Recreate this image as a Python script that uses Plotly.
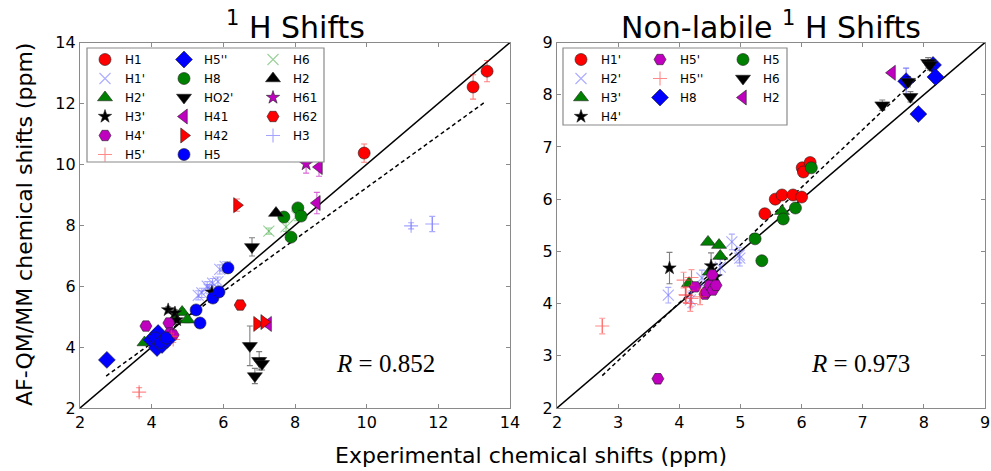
import plotly.graph_objects as go

# ---------------- tick values ----------------
LEFT_TICKS = [2, 4, 6, 8, 10, 12, 14]
RIGHT_TICKS = [2, 3, 4, 5, 6, 7, 8, 9]
LEFT_RANGE = [2, 14]
RIGHT_RANGE = [2, 9]

# ---------------- left panel: all 1H shifts ----------------
L_NAMES = ["H1", "H1'", "H2'", "H3'", "H4'", "H5'", "H5''", "H8", "HO2'",
           "H41", "H42", "H5", "H6", "H2", "H61", "H62", "H3"]

L_H1_x = [9.93, 12.97, 13.36]
L_H1_y = [10.37, 12.54, 13.06]
L_H1_e = [0.3, 0.4, 0.35]
L_H1p_x = [5.3, 5.4, 5.55, 5.6, 5.7, 5.85, 5.9, 6.05]
L_H1p_y = [5.7, 5.78, 6.0, 5.9, 6.1, 6.15, 6.55, 6.65]
L_H1p_e = [0.15, 0.15, 0.15, 0.15, 0.15, 0.15, 0.15, 0.15]
L_H2p_x = [3.8, 4.65, 4.85, 5.0]
L_H2p_y = [4.15, 4.95, 5.15, 4.9]
L_H2p_e = [0.05, 0.1, 0.1, 0.1]
L_H3p_x = [4.46, 4.65, 4.7, 5.68]
L_H3p_y = [5.22, 5.12, 4.89, 5.8]
L_H3p_e = [0.1, 0.1, 0.15, 0.1]
L_H4p_x = [3.84, 4.48, 4.51, 4.6]
L_H4p_y = [4.69, 4.79, 4.46, 4.4]
L_H4p_e = [0.05, 0.1, 0.1, 0.05]
L_H5p_x = [3.65, 4.55, 4.6]
L_H5p_y = [2.52, 4.35, 4.25]
L_H5p_e = [0.15, 0.1, 0.1]
L_H5pp_x = [2.75, 4.0, 4.1, 4.15, 4.18, 4.29, 4.43]
L_H5pp_y = [3.58, 4.23, 4.35, 3.97, 4.46, 4.07, 4.23]
L_H5pp_e = [0.05, 0.05, 0.05, 0.05, 0.05, 0.05, 0.05]
L_H8_x = [7.69, 7.89, 8.08, 8.17]
L_H8_y = [8.27, 7.61, 8.57, 8.30]
L_H8_e = [0.1, 0.1, 0.1, 0.1]
L_HO2_x = [6.74, 6.80, 6.88, 7.0, 7.08]
L_HO2_y = [4.04, 7.29, 3.05, 3.55, 3.45]
L_HO2_e = [0.65, 0.3, 0.25, 0.3, 0.2]
L_H41_x = [7.25, 8.61, 8.67]
L_H41_y = [4.76, 8.73, 9.91]
L_H41_e = [0.1, 0.35, 0.3]
L_H42_x = [6.38, 6.94, 7.14]
L_H42_y = [8.66, 4.76, 4.82]
L_H42_e = [0.2, 0.1, 0.1]
L_H5_x = [4.1, 4.25, 4.4, 5.24, 5.35, 5.71, 5.88, 6.13]
L_H5_y = [4.3, 4.15, 4.3, 5.22, 4.79, 5.61, 5.81, 6.60]
L_H5_e = [0.05, 0.05, 0.05, 0.05, 0.05, 0.05, 0.05, 0.05]
L_H6_x = [7.27, 7.75, 8.05]
L_H6_y = [7.81, 7.95, 8.3]
L_H6_e = [0.1, 0.15, 0.15]
L_H2_x = [7.47]
L_H2_y = [8.40]
L_H2_e = [0.05]
L_H61_x = [8.31]
L_H61_y = [10.01]
L_H61_e = [0.3]
L_H62_x = [6.47]
L_H62_y = [5.38]
L_H62_e = [0.05]
L_H3_x = [11.24, 11.83]
L_H3_y = [7.98, 8.04]
L_H3_e = [0.1, 0.25]

L_FIT_SLOPE = 0.851
L_FIT_INTERCEPT = 0.726
L_FIT_X = [2.73, 13.3]
L_R = "0.852"

# ---------------- right panel: non-labile 1H shifts ----------------
R_NAMES = ["H1'", "H2'", "H3'", "H4'", "H5'", "H5''", "H8", "H5", "H6", "H2"]

R_H1p_x = [5.40, 5.57, 5.68, 5.86, 6.0, 6.01, 6.03, 6.14]
R_H1p_y = [5.72, 6.0, 6.08, 6.08, 6.04, 6.6, 6.52, 6.7]
R_H1p_e = [0.05, 0.05, 0.05, 0.05, 0.05, 0.05, 0.05, 0.05]
R_H2p_x = [3.82, 4.18, 4.37, 4.67, 4.86, 4.98, 4.99]
R_H2p_y = [4.16, 4.07, 4.49, 4.7, 5.18, 4.93, 4.87]
R_H2p_e = [0.15, 0.15, 0.15, 0.15, 0.15, 0.15, 0.15]
R_H3p_x = [4.16, 4.47, 4.5, 4.65, 4.67, 5.68]
R_H3p_y = [4.39, 5.18, 4.61, 5.12, 4.91, 5.77]
R_H3p_e = [0.05, 0.05, 0.05, 0.05, 0.05, 0.05]
R_H4p_x = [3.84, 4.52, 4.59]
R_H4p_y = [4.68, 4.72, 4.51]
R_H4p_e = [0.3, 0.25, 0.1]
R_H5p_x = [3.65, 4.26, 4.42, 4.44, 4.5, 4.55, 4.54, 4.6]
R_H5p_y = [2.56, 4.32, 4.18, 4.22, 4.35, 4.26, 4.55, 4.35]
R_H5p_e = [0.1, 0.05, 0.05, 0.05, 0.05, 0.05, 0.05, 0.05]
R_H5pp_x = [2.74, 4.07, 4.1, 4.11, 4.18, 4.2, 4.34, 4.2]
R_H5pp_y = [3.57, 4.45, 4.17, 4.16, 4.0, 4.5, 4.13, 4.1]
R_H5pp_e = [0.15, 0.15, 0.15, 0.15, 0.15, 0.15, 0.15, 0.15]
R_H8_x = [7.71, 7.91, 8.15, 8.19]
R_H8_y = [8.26, 7.63, 8.57, 8.34]
R_H8_e = [0.25, 0.05, 0.05, 0.1]
R_H5_x = [5.24, 5.35, 5.7, 5.9, 6.16]
R_H5_y = [5.24, 4.82, 5.62, 5.83, 6.6]
R_H5_e = [0.05, 0.05, 0.05, 0.05, 0.05]
R_H6_x = [7.32, 7.74, 7.78, 8.07, 8.1]
R_H6_y = [7.8, 8.25, 7.96, 8.61, 8.57]
R_H6_e = [0.1, 0.1, 0.1, 0.1, 0.1]
R_H2_x = [7.48]
R_H2_y = [8.42]
R_H2_e = [0.05]

R_FIT_SLOPE = 1.106
R_FIT_INTERCEPT = -0.41
R_FIT_X = [2.74, 8.1]
R_R = "0.973"

LEFT_SERIES = [
    (L_H1_x, L_H1_y, L_H1_e), (L_H1p_x, L_H1p_y, L_H1p_e), (L_H2p_x, L_H2p_y, L_H2p_e),
    (L_H3p_x, L_H3p_y, L_H3p_e), (L_H4p_x, L_H4p_y, L_H4p_e), (L_H5p_x, L_H5p_y, L_H5p_e),
    (L_H5pp_x, L_H5pp_y, L_H5pp_e), (L_H8_x, L_H8_y, L_H8_e), (L_HO2_x, L_HO2_y, L_HO2_e),
    (L_H41_x, L_H41_y, L_H41_e), (L_H42_x, L_H42_y, L_H42_e), (L_H5_x, L_H5_y, L_H5_e),
    (L_H6_x, L_H6_y, L_H6_e), (L_H2_x, L_H2_y, L_H2_e), (L_H61_x, L_H61_y, L_H61_e),
    (L_H62_x, L_H62_y, L_H62_e), (L_H3_x, L_H3_y, L_H3_e),
]
RIGHT_SERIES = [
    (R_H1p_x, R_H1p_y, R_H1p_e), (R_H2p_x, R_H2p_y, R_H2p_e), (R_H3p_x, R_H3p_y, R_H3p_e),
    (R_H4p_x, R_H4p_y, R_H4p_e), (R_H5p_x, R_H5p_y, R_H5p_e), (R_H5pp_x, R_H5pp_y, R_H5pp_e),
    (R_H8_x, R_H8_y, R_H8_e), (R_H5_x, R_H5_y, R_H5_e), (R_H6_x, R_H6_y, R_H6_e),
    (R_H2_x, R_H2_y, R_H2_e),
]

# ---------------- marker style cycle (symbol, fill colour, error colour, size, open) ----------------
STYLE_CYCLE = [
    ("circle", "#ff0000", "rgba(255,0,0,0.5)", 12, False),
    ("x-thin-open", "rgba(90,90,255,0.5)", "rgba(90,90,255,0.5)", 11, True),
    ("triangle-up", "#008000", "rgba(0,128,0,0.5)", 13, False),
    ("star", "#000000", "rgba(0,0,0,0.5)", 10, False),
    ("hexagon2", "#bf00bf", "rgba(191,0,191,0.5)", 12, False),
    ("cross-thin-open", "rgba(255,60,60,0.6)", "rgba(255,60,60,0.5)", 10, True),
    ("diamond", "#0000ff", "rgba(0,0,255,0.5)", 13, False),
    ("circle", "#008000", "rgba(0,128,0,0.5)", 12, False),
    ("triangle-down", "#000000", "rgba(0,0,0,0.5)", 13, False),
    ("triangle-left", "#bf00bf", "rgba(191,0,191,0.6)", 13, False),
    ("triangle-right", "#ff0000", "rgba(255,0,0,0.5)", 13, False),
    ("circle", "#0000ff", "rgba(0,0,255,0.5)", 12, False),
    ("x-thin-open", "rgba(0,140,0,0.4)", "rgba(0,140,0,0.4)", 11, True),
    ("triangle-up", "#000000", "rgba(0,0,0,0.5)", 13, False),
    ("star", "#bf00bf", "rgba(191,0,191,0.6)", 10, False),
    ("hexagon2", "#ff0000", "rgba(255,0,0,0.5)", 12, False),
    ("cross-thin-open", "rgba(90,90,255,0.55)", "rgba(90,90,255,0.5)", 10, True),
]

FONT = "DejaVu Sans"
W, H = 991, 471

fig = go.Figure()


def legend_columns(n, ncol=3):
    base, extra = divmod(n, ncol)
    sizes = [base + (1 if i < extra else 0) for i in range(ncol)]
    out = []
    for c, s in enumerate(sizes):
        out += [c] * s
    return out


def add_panel(names, series, xa, ya, legend_offset):
    cols = legend_columns(len(names))
    for i, (name, (xs, ys, es)) in enumerate(zip(names, series)):
        sym, col, ecol, size, is_open = STYLE_CYCLE[i]
        leg_idx = legend_offset + cols[i]
        legend_name = "legend" if leg_idx == 1 else f"legend{leg_idx}"
        marker = dict(symbol=sym, color=col, size=size)
        if is_open:
            marker["line"] = dict(width=1.1, color=col)
        else:
            marker["line"] = dict(width=0.6, color="#222222")
        fig.add_trace(go.Scatter(
            x=xs, y=ys, mode="markers", name=name, marker=marker,
            error_y=dict(type="data", array=es, color=ecol, thickness=1.1, width=3),
            xaxis=xa, yaxis=ya, legend=legend_name, hoverinfo="skip",
        ))


def add_lines(rng, slope, intercept, fit_x, xa, ya):
    fig.add_trace(go.Scatter(x=rng, y=rng, mode="lines", showlegend=False,
                             line=dict(color="black", width=1.5), xaxis=xa, yaxis=ya,
                             hoverinfo="skip"))
    fig.add_trace(go.Scatter(x=fit_x, y=[slope * v + intercept for v in fit_x], mode="lines",
                             showlegend=False, line=dict(color="black", width=1.5, dash="4px,3px"),
                             xaxis=xa, yaxis=ya, hoverinfo="skip"))


add_lines(LEFT_RANGE, L_FIT_SLOPE, L_FIT_INTERCEPT, L_FIT_X, "x", "y")
add_lines(RIGHT_RANGE, R_FIT_SLOPE, R_FIT_INTERCEPT, R_FIT_X, "x2", "y2")
add_panel(L_NAMES, LEFT_SERIES, "x", "y", 1)
add_panel(R_NAMES, RIGHT_SERIES, "x2", "y2", 4)

axis_common = dict(showline=True, linecolor="#8a8a8a", linewidth=1.2, mirror="ticks",
                   ticks="inside", ticklen=4, tickcolor="#8a8a8a", showgrid=False,
                   zeroline=False, tickfont=dict(family=FONT, size=16, color="black"),
                   automargin=False)

y_dom = [63 / H, 428.5 / H]
fig.update_layout(
    width=W, height=H, margin=dict(l=0, r=0, t=0, b=0),
    paper_bgcolor="white", plot_bgcolor="white",
    xaxis=dict(domain=[80 / W, 510 / W], range=LEFT_RANGE, tickvals=LEFT_TICKS, anchor="y", **axis_common),
    yaxis=dict(domain=y_dom, range=LEFT_RANGE, tickvals=LEFT_TICKS, anchor="x", **axis_common),
    xaxis2=dict(domain=[557 / W, 985 / W], range=RIGHT_RANGE, tickvals=RIGHT_TICKS, anchor="y2", **axis_common),
    yaxis2=dict(domain=y_dom, range=RIGHT_RANGE, tickvals=RIGHT_TICKS, anchor="x2", **axis_common),
)

# legends: three columns per panel, framed by a box
legend_common = dict(xanchor="left", yanchor="top", bgcolor="rgba(0,0,0,0)", borderwidth=0,
                     font=dict(family=FONT, size=12, color="black"), tracegroupgap=0,
                     itemsizing="trace", itemclick=False, itemdoubleclick=False)
leg_x = [85, 164, 253, 561, 640, 723]
leg_top = 45
for k, px in enumerate(leg_x):
    key = "legend" if k == 0 else f"legend{k + 1}"
    fig.update_layout({key: dict(x=px / W, y=1 - leg_top / H, **legend_common)})

fig.add_shape(type="rect", xref="paper", yref="paper", x0=87 / W, x1=324 / W,
              y0=1 - 162 / H, y1=1 - 48 / H, line=dict(color="#8a8a8a", width=1.2),
              fillcolor="white", layer="above")
fig.add_shape(type="rect", xref="paper", yref="paper", x0=563 / W, x1=787 / W,
              y0=1 - 125 / H, y1=1 - 48 / H, line=dict(color="#8a8a8a", width=1.2),
              fillcolor="white", layer="above")

# titles and labels
fig.add_annotation(text="<sup>1</sup> H Shifts", x=295 / W, y=1 - 26 / H, xref="paper", yref="paper",
                   showarrow=False, font=dict(family=FONT, size=30, color="black"),
                   xanchor="center", yanchor="middle")
fig.add_annotation(text="Non-labile <sup>1</sup> H Shifts", x=771 / W, y=1 - 26 / H, xref="paper",
                   yref="paper", showarrow=False, font=dict(family=FONT, size=30, color="black"),
                   xanchor="center", yanchor="middle")
fig.add_annotation(text="AF-QM/MM chemical shifts (ppm)", x=24 / W, y=1 - 225 / H, xref="paper",
                   yref="paper", showarrow=False, textangle=-90,
                   font=dict(family=FONT, size=22, color="black"), xanchor="center", yanchor="middle")
fig.add_annotation(text="Experimental chemical shifts (ppm)", x=531 / W, y=1 - 455 / H, xref="paper",
                   yref="paper", showarrow=False, font=dict(family=FONT, size=22, color="black"),
                   xanchor="center", yanchor="middle")
fig.add_annotation(text="<i>R</i> = " + L_R, x=385 / W, y=1 - 363 / H, xref="paper", yref="paper",
                   showarrow=False, font=dict(family="Liberation Serif", size=25, color="black"),
                   xanchor="center", yanchor="middle")
fig.add_annotation(text="<i>R</i> = " + R_R, x=860 / W, y=1 - 363 / H, xref="paper", yref="paper",
                   showarrow=False, font=dict(family="Liberation Serif", size=25, color="black"),
                   xanchor="center", yanchor="middle")

fig.write_html("out.html")
